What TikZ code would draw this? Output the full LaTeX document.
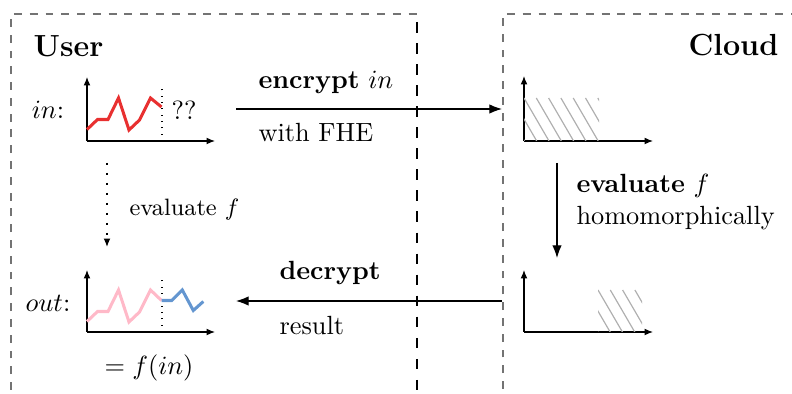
\documentclass[tikz,border=0pt]{standalone}
\usetikzlibrary{arrows.meta}
\definecolor{sigred}{RGB}{232,48,48}
\definecolor{sigpink}{RGB}{255,185,200}
\definecolor{sigblue}{RGB}{100,150,208}
\definecolor{framegray}{RGB}{115,115,115}
\definecolor{hatchgray}{RGB}{175,175,175}
\tikzset{
  title/.style={font=\fontsize{11.6}{14}\selectfont\bfseries},
  frame/.style={draw=framegray, dash pattern=on 3pt off 3pt, line width=0.45pt},
  divider/.style={draw=black, dash pattern=on 4pt off 4pt, line width=0.4pt},
  axis/.style={draw=black, line width=0.45pt, -{Latex[length=3.2pt,width=2.6pt]}},
  sig/.style={line width=1.15pt, line join=miter},
  flow/.style={draw=black, line width=0.45pt, -{Latex[length=4.8pt,width=3.6pt]}},
  hatch/.style={draw=hatchgray, line width=0.45pt},
  lbl/.style={inner sep=0pt, anchor=west},
}
\newcommand{\hatchrect}[4]{% x0, y0 (top), x1, y1 (bottom)
  \begin{scope}
    \clip (#1,#2) rectangle (#3,#4);
    \foreach \k in {-4,...,9} {
      \draw[hatch] ({#1+12.3*\k},#2) -- ({#1+12.3*\k+25},{#2+43});
    }
  \end{scope}
}
\begin{document}
\begin{tikzpicture}[x=0.38pt,y=-0.38pt]
\useasboundingbox (0,0) rectangle (792,394);

% frames of the two parties
\draw[frame] (11,390) -- (11,14) -- (417,14);
\draw[frame] (503,389) -- (503,14) -- (792,14);
\draw[divider] (417,22) -- (417,394);

\node[title] (user) at (68.5,46) {User};
\node[title] (cloud) at (733.5,45) {Cloud};

% input signal
\node (inlbl) at (48,110) {$in$:};
\begin{scope}[shift={(87,141)}]
  \draw[axis] (0,0) -- (0,-64);
  \draw[axis] (0,0) -- (128,0);
  \draw[dotted] (75,0) -- (75,-56);
  \draw[sig,sigred] (0,-11.5) -- (10.5,-21.5) -- (21,-21.5) -- (31.5,-43) -- (42,-11)
     -- (52.5,-21) -- (63.5,-43) -- (74.5,-34);
\end{scope}
\node (unknown) at (184,110) {??};

% output signal
\node (outlbl) at (48,303) {$out$:};
\begin{scope}[shift={(87,332)}]
  \draw[axis] (0,0) -- (0,-62);
  \draw[axis] (0,0) -- (128,0);
  \draw[dotted] (75,0) -- (75,-56);
  \draw[sig,sigpink] (0,-10.5) -- (10.5,-20.5) -- (21,-20.5) -- (31.5,-42) -- (42,-10)
     -- (52.5,-20) -- (63.5,-42) -- (74.5,-31.5);
  \draw[sig,sigblue] (74.5,-31.5) -- (84.7,-31.5) -- (95.3,-42) -- (106.3,-21.5) -- (116.3,-30.5);
\end{scope}
\node (result) at (149,368) {$= f(in)$};

% plain evaluation
\coordinate (evS) at (107,163);
\coordinate (evE) at (107,247);
\draw[dash pattern=on 0.6pt off 3.2pt, line width=0.5pt, -{Latex[length=3.2pt,width=2.6pt]}] (evS) -- (evE);
\node[lbl, font=\small] (evlbl) at (129,210) {evaluate $f$};

% encryption
\coordinate (encS) at (236,109);
\coordinate (encE) at (502,109);
\draw[flow] (encS) -- (encE);
\node[lbl] (enc1) at (258,82) {\textbf{encrypt} $in$};
\node[lbl] (enc2) at (258,133) {with FHE};

% decryption
\coordinate (decS) at (502,301);
\coordinate (decE) at (236,301);
\draw[flow] (decS) -- (decE);
\node[lbl] (dec1) at (279,273) {\textbf{decrypt}};
\node[lbl] (dec2) at (279,326) {result};

% encrypted data in the cloud
\begin{scope}[shift={(524,141)}]
  \draw[axis] (0,0) -- (0,-65);
  \draw[axis] (0,0) -- (129,0);
\end{scope}
\hatchrect{524}{98}{599}{141}
\begin{scope}[shift={(524,332)}]
  \draw[axis] (0,0) -- (0,-62);
  \draw[axis] (0,0) -- (129,0);
\end{scope}
\hatchrect{598}{290}{642}{332}

% homomorphic evaluation
\coordinate (hS) at (557,163);
\coordinate (hE) at (557,258);
\draw[flow] (hS) -- (hE);
\node[lbl, align=left] (hlbl) at (576,202) {\textbf{evaluate} $f$\\homomorphically};
\end{tikzpicture}
\end{document}
